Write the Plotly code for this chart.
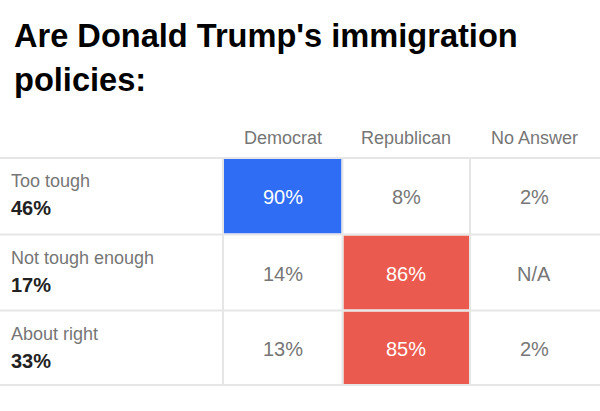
import plotly.graph_objects as go

# ---- data ----
title_lines = ["Are Donald Trump's immigration", "policies:"]
categories = ["Too tough", "Not tough enough", "About right"]
totals = [46, 17, 33]
parties = ["Democrat", "Republican", "No Answer"]
democrat = [90, 14, 13]
republican = [8, 86, 85]
no_answer = [2, None, 2]

# ---- layout constants ----
W, H = 600, 411
col_edges = [0, 223, 342.5, 470, 598]
row_edges = [158, 234.5, 310.5, 385]
BLUE = "#2F6DF5"
RED = "#EB5A4E"
GRID = "#E6E6E6"
GRAY = "#767676"
DARK = "#222222"
FONT = "Liberation Sans, Arial, sans-serif"

fig = go.Figure()
# invisible trace so the axes exist
fig.add_trace(go.Scatter(x=[0, W], y=[0, H], mode="markers",
                         marker=dict(opacity=0), hoverinfo="skip", showlegend=False))

shapes = []
annotations = []

# title
for i, line in enumerate(title_lines):
    annotations.append(dict(x=12, y=35 + i * 44, xref="x", yref="y", text="<b>%s</b>" % line,
                            showarrow=False, xanchor="left", yanchor="middle",
                            font=dict(family=FONT, size=32.6, color="#000000")))

# headers
for j, p in enumerate(parties):
    cx = (col_edges[j + 1] + col_edges[j + 2]) / 2
    annotations.append(dict(x=cx, y=138, xref="x", yref="y", text=p, showarrow=False,
                            xanchor="center", yanchor="middle",
                            font=dict(family=FONT, size=18, color=GRAY)))

series = [democrat, republican, no_answer]
for i, cat in enumerate(categories):
    y0, y1 = row_edges[i], row_edges[i + 1]
    # highlighted cell
    if democrat[i] > republican[i]:
        hi, color = 0, BLUE
    else:
        hi, color = 1, RED
    shapes.append(dict(type="rect", xref="x", yref="y",
                       x0=col_edges[hi + 1] + 1, x1=col_edges[hi + 2] - 1,
                       y0=y0 + 1, y1=y1 - 1, fillcolor=color, line=dict(width=0),
                       layer="below"))
    # row label
    annotations.append(dict(x=9, y=y0 + 23, xref="x", yref="y", text=cat, showarrow=False,
                            xanchor="left", yanchor="middle",
                            font=dict(family=FONT, size=18, color=GRAY)))
    annotations.append(dict(x=9, y=y0 + 50, xref="x", yref="y",
                            text="<b>%d%%</b>" % totals[i], showarrow=False,
                            xanchor="left", yanchor="middle",
                            font=dict(family=FONT, size=20, color=DARK)))
    for j, s in enumerate(series):
        v = s[i]
        txt = "N/A" if v is None else "%d%%" % v
        cx = (col_edges[j + 1] + col_edges[j + 2]) / 2
        annotations.append(dict(x=cx, y=(y0 + y1) / 2 + 1, xref="x", yref="y", text=txt,
                                showarrow=False, xanchor="center", yanchor="middle",
                                font=dict(family=FONT, size=20,
                                          color="#FFFFFF" if j == hi else GRAY)))

# horizontal grid lines
for y in row_edges:
    shapes.append(dict(type="line", xref="x", yref="y", x0=0, x1=W, y0=y, y1=y,
                       line=dict(color=GRID, width=2), layer="above"))
# vertical grid lines
for x in col_edges[1:4]:
    shapes.append(dict(type="line", xref="x", yref="y", x0=x, x1=x,
                       y0=row_edges[0], y1=row_edges[-1],
                       line=dict(color=GRID, width=2), layer="above"))

fig.update_layout(
    width=W, height=H,
    margin=dict(l=0, r=0, t=0, b=0),
    paper_bgcolor="white", plot_bgcolor="white",
    xaxis=dict(range=[0, W], visible=False, fixedrange=True),
    yaxis=dict(range=[H, 0], visible=False, fixedrange=True),
    shapes=shapes, annotations=annotations, showlegend=False,
)

fig.write_html("out.html", config={"displayModeBar": False},
               post_script="document.body.style.margin='0';document.body.style.overflow='hidden';")
